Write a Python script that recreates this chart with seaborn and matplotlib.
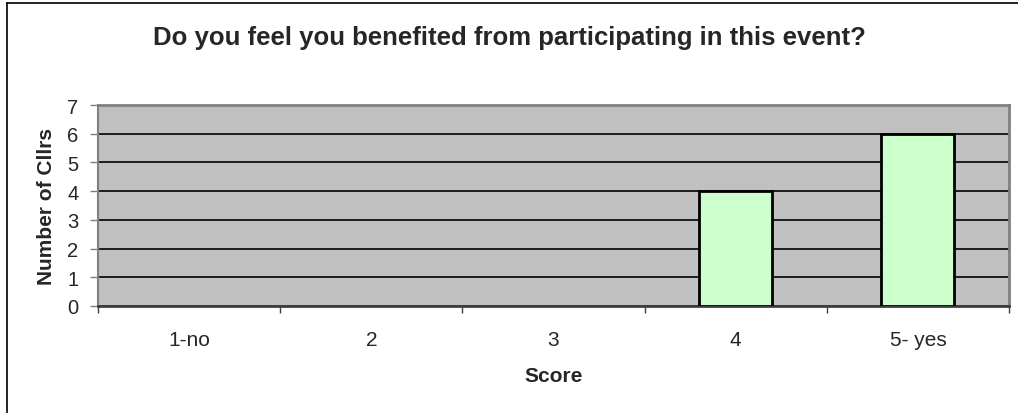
import numpy as np
import pandas as pd
import seaborn as sns
import matplotlib.pyplot as plt
from matplotlib.lines import Line2D

SCORES = ["1-no", "2", "3", "4", "5- yes"]
COUNTS = [0, 0, 0, 4, 6]

TITLE = "Do you feel you benefited from participating in this event?"


def main():
    sns.set_style("white")
    plt.rcParams["font.family"] = ["Liberation Sans", "DejaVu Sans"]

    df = pd.DataFrame({"score": SCORES, "count": COUNTS})

    fig = plt.figure(figsize=(10.18, 4.14), dpi=100)
    ax = fig.add_axes([98 / 1018, 1 - 307 / 414, 911 / 1018, 201 / 414])
    ax.set_facecolor("#C0C0C0")

    sns.barplot(data=df, x="score", y="count", order=SCORES, color="#CCFFCC",
                saturation=1, width=0.4, edgecolor="black", linewidth=2,
                ax=ax, zorder=3)
    # empty bars have no visible outline in the original
    for p in ax.patches:
        if p.get_height() == 0:
            p.set_linewidth(0)

    ax.set_ylim(0, 7)
    ax.set_xlim(-0.5, len(SCORES) - 0.5)
    ax.set_yticks(range(0, 8))
    ax.yaxis.grid(True, color="black", linewidth=1.2, zorder=0)
    ax.set_axisbelow(True)

    ax.tick_params(axis="y", direction="out", length=6, width=1, color="#808080",
                   labelsize=14.5, pad=8, left=True)
    ax.tick_params(axis="x", which="major", length=0, labelsize=15, pad=17)
    ax.set_xticks(np.arange(-0.5, len(SCORES) + 0.5), minor=True)
    ax.tick_params(axis="x", which="minor", direction="out", length=5, width=1,
                   color="#404040", bottom=True)

    for side in ["top", "right"]:
        ax.spines[side].set_visible(True)
        ax.spines[side].set_color("#808080")
        ax.spines[side].set_linewidth(2)
    ax.spines["left"].set_color("#808080")
    ax.spines["left"].set_linewidth(1.5)
    ax.spines["bottom"].set_color("#404040")
    ax.spines["bottom"].set_linewidth(2)

    ax.set_xlabel("Score", fontsize=15, fontweight="bold", labelpad=12.5)
    ax.set_ylabel("Number of Cllrs", fontsize=15, fontweight="bold", labelpad=8)

    fig.text(0.5, 1 - 38 / 414, TITLE, ha="center", va="center",
             fontsize=18.5, fontweight="bold")

    # outer chart border (only top and left visible in the original)
    fig.add_artist(Line2D([7 / 1018, 1], [1 - 4 / 414, 1 - 4 / 414],
                          transform=fig.transFigure, color="black", linewidth=1.2))
    fig.add_artist(Line2D([7 / 1018, 7 / 1018], [0, 1 - 4 / 414],
                          transform=fig.transFigure, color="black", linewidth=1.2))

    fig.savefig("out.png", dpi=100)


if __name__ == "__main__":
    main()
